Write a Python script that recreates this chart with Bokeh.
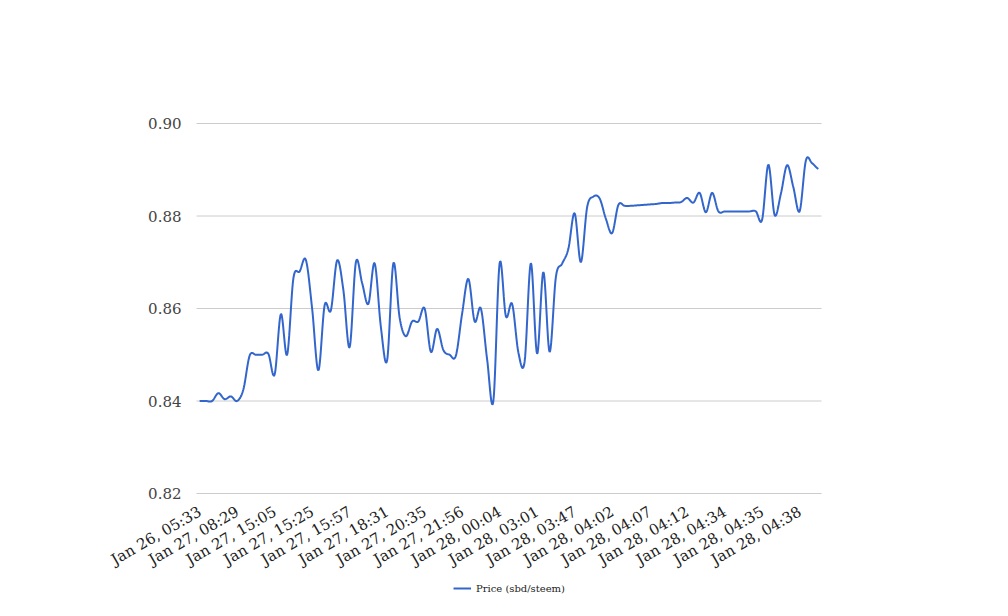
import numpy as np
from bokeh.plotting import figure
from bokeh.models import Range1d, Legend, LegendItem
from bokeh.core.properties import value
from bokeh.embed import file_html
from bokeh.resources import INLINE

# ---- data ----
price = [
    0.8400, 0.8400, 0.8400, 0.8417, 0.8404, 0.8410, 0.8400, 0.8425, 0.8498, 0.8500,
    0.8500, 0.8502, 0.8457, 0.8588, 0.8500, 0.8665, 0.8680, 0.8705, 0.8600, 0.8466,
    0.8607, 0.8596, 0.8704, 0.8640, 0.8516, 0.8700, 0.8655, 0.8610, 0.8698, 0.8560,
    0.8488, 0.8698, 0.8580, 0.8540, 0.8572, 0.8572, 0.8600, 0.8506, 0.8556, 0.8510,
    0.8500, 0.8498, 0.8589, 0.8664, 0.8572, 0.8600, 0.8490, 0.8400, 0.8698, 0.8583,
    0.8610, 0.8505, 0.8485, 0.8698, 0.8502, 0.8679, 0.8506, 0.8668, 0.8697, 0.8729,
    0.8806, 0.8700, 0.8819, 0.8842, 0.8838, 0.8794, 0.8763, 0.8824, 0.8822, 0.8822,
    0.8823, 0.8824, 0.8825, 0.8826, 0.8828, 0.8828, 0.8829, 0.8830, 0.8839, 0.8829,
    0.8850, 0.8808, 0.8850, 0.8810, 0.8810, 0.8810, 0.8810, 0.8810, 0.8810, 0.8810,
    0.8792, 0.8911, 0.8802, 0.8848, 0.8910, 0.8862, 0.8810, 0.8920, 0.8914, 0.8902,
]
tick_labels = [
    "Jan 26, 05:33", "Jan 27, 08:29", "Jan 27, 15:05", "Jan 27, 15:25",
    "Jan 27, 15:57", "Jan 27, 18:31", "Jan 27, 20:35", "Jan 27, 21:56",
    "Jan 28, 00:04", "Jan 28, 03:01", "Jan 28, 03:47", "Jan 28, 04:02",
    "Jan 28, 04:07", "Jan 28, 04:12", "Jan 28, 04:34", "Jan 28, 04:35",
    "Jan 28, 04:38",
]
label_step = 6
y_ticks = [0.82, 0.84, 0.86, 0.88, 0.90]
series_name = "Price (sbd/steem)"

# ---- smooth curve (Catmull-Rom through the data points) ----
def catmull_rom(xs, ys, steps=12):
    xs = np.asarray(xs, float); ys = np.asarray(ys, float)
    n = len(xs)
    px = np.concatenate([[xs[0]], xs, [xs[-1]]])
    py = np.concatenate([[ys[0]], ys, [ys[-1]]])
    ox, oy = [], []
    for i in range(n - 1):
        p0, p1, p2, p3 = py[i], py[i + 1], py[i + 2], py[i + 3]
        x1, x2 = px[i + 1], px[i + 2]
        t = np.linspace(0, 1, steps, endpoint=False)
        m1 = (p2 - p0) / 2.0
        m2 = (p3 - p1) / 2.0
        h00 = 2 * t**3 - 3 * t**2 + 1
        h10 = t**3 - 2 * t**2 + t
        h01 = -2 * t**3 + 3 * t**2
        h11 = t**3 - t**2
        oy.extend(h00 * p1 + h10 * m1 + h01 * p2 + h11 * m2)
        ox.extend(x1 + t * (x2 - x1))
    ox.append(xs[-1]); oy.append(ys[-1])
    return ox, oy

n = len(price)
idx = list(range(n))
sx, sy = catmull_rom(idx, price)

# ---- geometry: chart area 196..821 px wide, 0.90 at 123 px, 0.82 at 493 px.
# The frame covers the whole page so slanted labels and legend are not clipped.
W, H = 1000, 608
area_l, area_r, area_t, area_b = 196, 821, 123, 493
ppx = (area_r - area_l) / n                       # px per category
ppy = (area_b - area_t) / (y_ticks[-1] - y_ticks[0])  # px per unit
x_lo = -0.5 - area_l / ppx
x_hi = -0.5 + (W - area_l) / ppx
y_hi = y_ticks[-1] + area_t / ppy
y_lo = y_ticks[-1] - (H - area_t) / ppy

p = figure(
    frame_width=W, frame_height=H,
    min_border_left=0, min_border_right=0, min_border_top=0, min_border_bottom=0,
    x_range=Range1d(x_lo, x_hi), y_range=Range1d(y_lo, y_hi),
    output_backend="svg", toolbar_location=None,
)
p.outline_line_color = None
p.background_fill_color = "white"
p.border_fill_color = "white"
p.xaxis.visible = False
p.yaxis.visible = False
p.xgrid.grid_line_color = None
p.ygrid.grid_line_color = None

# horizontal gridlines across the chart area
p.segment(x0=[-0.5] * len(y_ticks), x1=[n - 0.5] * len(y_ticks), y0=y_ticks, y1=y_ticks,
          line_color="#cccccc", line_width=1)

# y tick labels
p.text(x=[-0.5] * len(y_ticks), y=y_ticks, text=["%.2f" % t for t in y_ticks],
       x_offset=-15, text_align="right", text_baseline="middle",
       text_font=value("DejaVu Serif"), text_font_size="15px", text_color="#444444")

r = p.line(sx, sy, line_color="#3366cc", line_width=2)

# slanted category labels under the chart area
tick_pos = [i * label_step for i in range(len(tick_labels))]
p.text(x=[t - 4 / ppx for t in tick_pos], y=[y_ticks[0] - 9 / ppy] * len(tick_pos),
       text=tick_labels,
       angle=np.pi / 6, text_align="right", text_baseline="top",
       text_font=value("DejaVu Serif"), text_font_size="15px", text_color="#222222")

legend = Legend(items=[LegendItem(label=series_name, renderers=[r])], location=(453, H - 594))
legend.label_text_font = "DejaVu Serif"
legend.label_text_font_size = "10px"
legend.label_text_color = "#222222"
legend.glyph_width = 18
legend.glyph_height = 12
legend.label_height = 12
legend.padding = 0
legend.margin = 0
legend.label_standoff = 5
legend.border_line_alpha = 0
legend.background_fill_alpha = 0
p.add_layout(legend)

open("out.html", "w").write(file_html(p, INLINE))
